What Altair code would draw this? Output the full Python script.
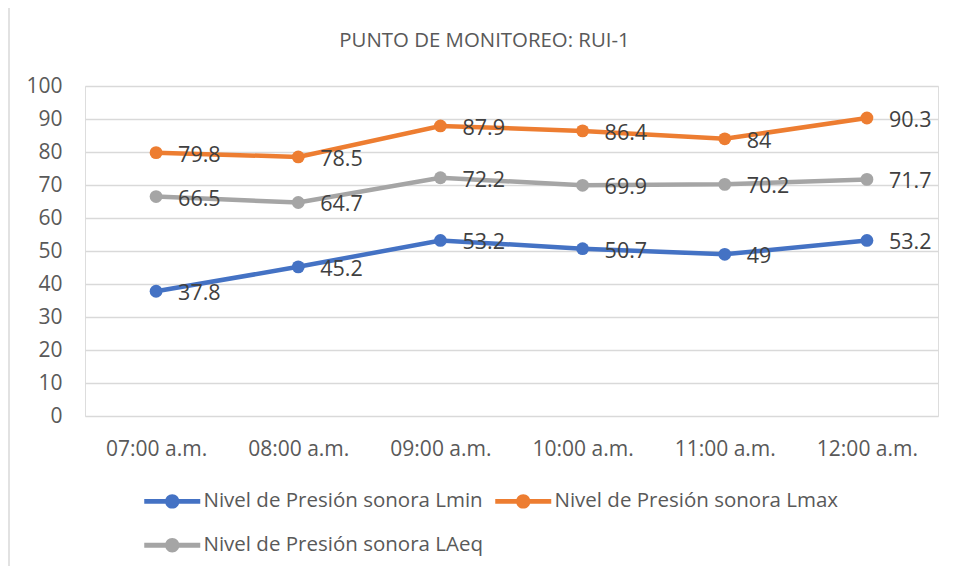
import altair as alt
import pandas as pd

categories = ["07:00 a.m.", "08:00 a.m.", "09:00 a.m.", "10:00 a.m.", "11:00 a.m.", "12:00 a.m."]
series_names = ["Nivel de Presión sonora Lmin", "Nivel de Presión sonora Lmax", "Nivel de Presión sonora LAeq"]
lmin = [37.8, 45.2, 53.2, 50.7, 49, 53.2]
lmax = [79.8, 78.5, 87.9, 86.4, 84, 90.3]
laeq = [66.5, 64.7, 72.2, 69.9, 70.2, 71.7]
colors = ["#4472C4", "#ED7D31", "#A5A5A5"]
title_text = "PUNTO DE MONITOREO: RUI-1"

rows = []
for name, vals in zip(series_names, [lmin, lmax, laeq]):
    for c, v in zip(categories, vals):
        rows.append({"hora": c, "serie": name, "valor": v, "etiqueta": f"{v:g}"})
df = pd.DataFrame(rows)

W, H = 853, 330
FONT = "Open Sans"

x = alt.X("hora:N", sort=categories, title=None,
          scale=alt.Scale(type="point", padding=0.5),
          axis=alt.Axis(labelAngle=0, labelFontSize=21, labelColor="#595959", labelFont=FONT,
                        ticks=False, domain=False, grid=False, labelPadding=22))
y = alt.Y("valor:Q", title=None,
          scale=alt.Scale(domain=[0, 100], nice=False),
          axis=alt.Axis(values=list(range(0, 101, 10)), labelFontSize=21, labelColor="#595959",
                        labelFont=FONT, ticks=False, domain=False, grid=True, gridColor="#d9d9d9",
                        gridWidth=1.5, labelPadding=23))
color_scale = alt.Scale(domain=series_names, range=colors)

legend_path = ("M-2.8,-0.24 L2.8,-0.24 L2.8,0.24 L-2.8,0.24 Z "
               "M-0.72,0 A0.72,0.72 0 1,1 0.72,0 A0.72,0.72 0 1,1 -0.72,0 Z")

legend = alt.Legend(title=None, orient="none", legendX=77, legendY=405,
                    direction="horizontal", columns=2,
                    symbolType=legend_path, symbolSize=400, symbolStrokeWidth=0,
                    symbolOpacity=1,
                    labelOffset=21, columnPadding=12, rowPadding=23,
                    labelFontSize=20.5, labelFont=FONT, labelColor="#595959",
                    labelLimit=500, padding=0)

color = alt.Color("serie:N", scale=color_scale, sort=series_names, legend=legend)

base = alt.Chart(df)

lines = base.mark_line(strokeWidth=4.5).encode(
    x=x, y=y, color=color, detail="serie:N",
)
points = base.mark_circle(size=165, opacity=1).encode(
    x=x, y=y, color=color,
)
labels = base.mark_text(align="left", baseline="middle", dx=22, dy=3, fontSize=21.5,
                        font=FONT, color="#404040").encode(
    x=x, y=y, text="etiqueta:N",
)
border = alt.Chart(alt.Data(values=[{}])).mark_rect(
    fillOpacity=0, stroke="#d9d9d9", strokeWidth=1.5
).encode(
    x=alt.value(-76), x2=alt.value(W + 40), y=alt.value(-82), y2=alt.value(H + 220)
)

chart = alt.layer(border, lines, points, labels).properties(
    width=W, height=H,
    title=alt.TitleParams(title_text, fontSize=20.4, font=FONT, color="#595959", fontWeight="normal",
                          anchor="middle", frame="group", baseline="alphabetic", offset=-63.75, dx=-27),
    autosize=alt.AutoSizeParams(type="none"),
    padding={"left": 77, "top": 78, "right": 10, "bottom": 150},
).configure_view(stroke=None).configure(background="white")

chart.save("out.html", embed_options={"renderer": "svg", "actions": False})
